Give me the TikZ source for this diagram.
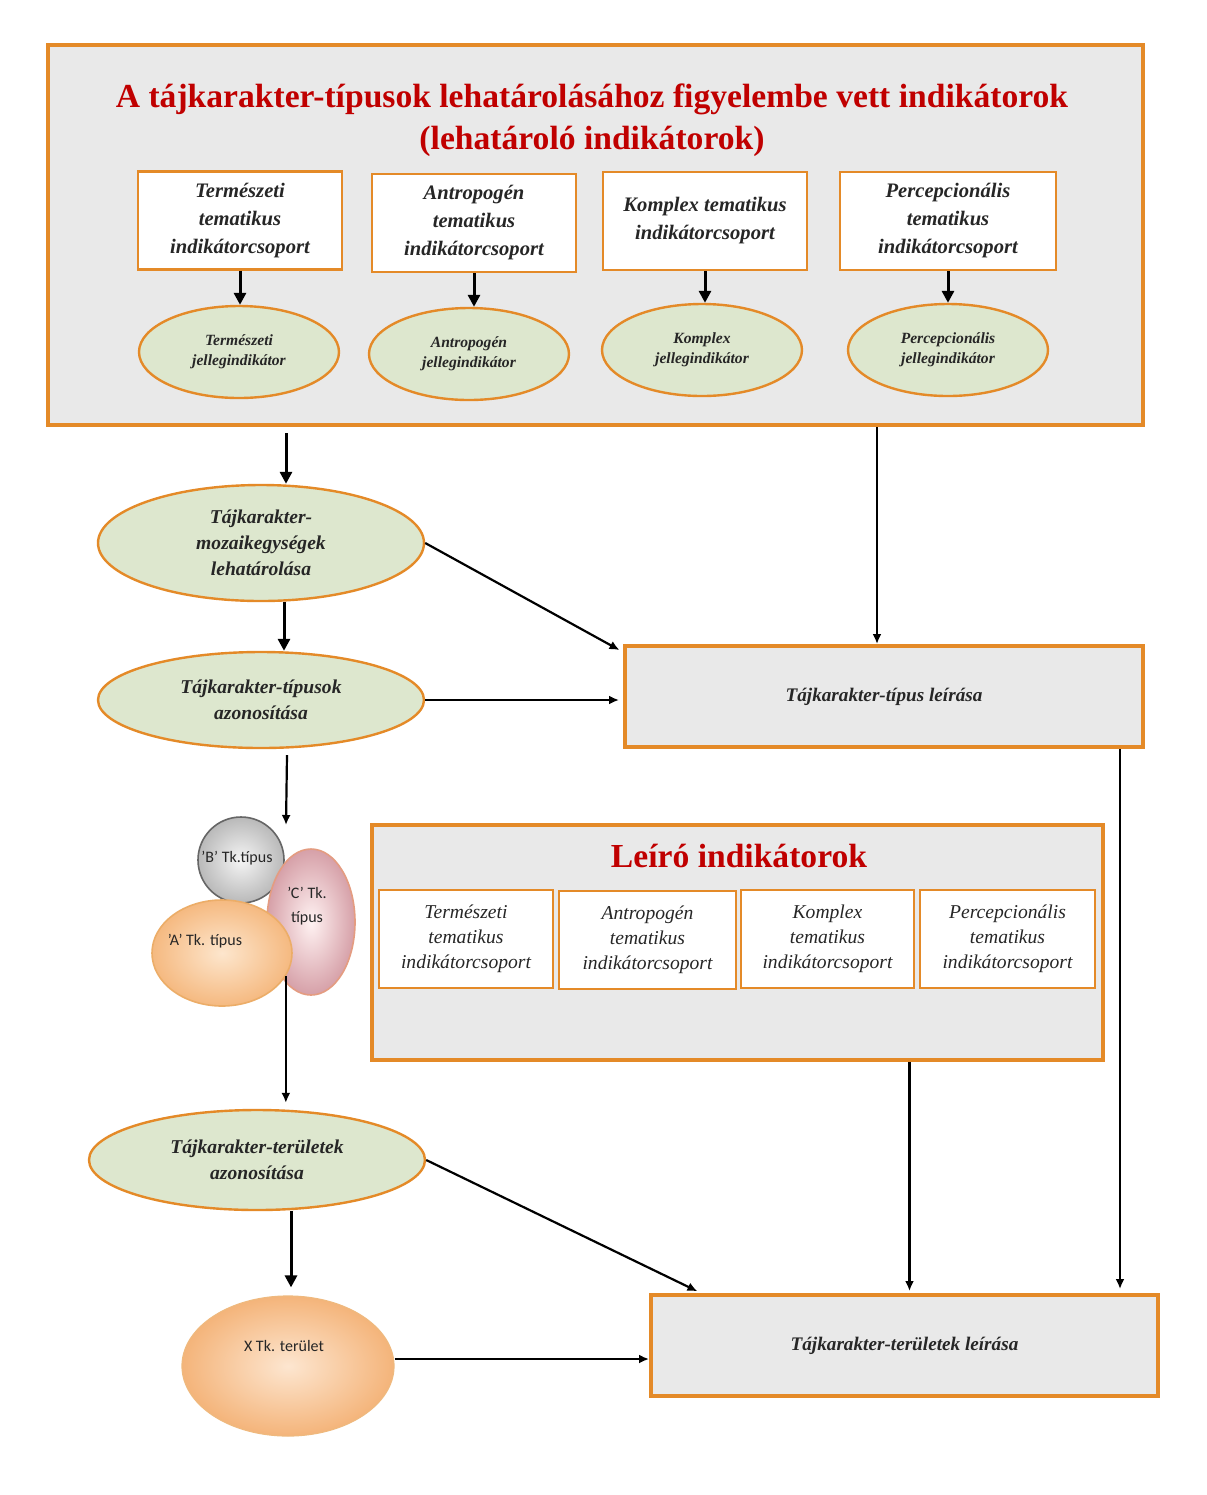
\documentclass[tikz,border=0pt]{standalone}
\usepackage{fontspec}
\setmainfont{Liberation Serif}
\newfontfamily\calib{Carlito}
\usetikzlibrary{shapes.geometric,arrows.meta,positioning}

\definecolor{orangeb}{RGB}{228,138,40}
\definecolor{grayf}{RGB}{233,233,233}
\definecolor{greenf}{RGB}{221,231,206}
\definecolor{redt}{RGB}{192,0,0}
\definecolor{textd}{RGB}{38,38,38}

\tikzset{
  frame/.style={draw=orangeb, line width=2pt, fill=grayf, inner sep=0pt},
  grpbox/.style={draw=orangeb, line width=1.2pt, fill=white, align=center, text=textd, inner sep=0pt,
    font=\bfseries\itshape\fontsize{10.3}{14}\selectfont, minimum height=49pt},
  descbox/.style={draw=orangeb, line width=1.2pt, fill=white, align=center, text=textd, inner sep=0pt,
    font=\itshape\fontsize{9.8}{12.5}\selectfont, minimum height=49pt},
  jelleg/.style={ellipse, draw=orangeb, line width=1.2pt, fill=greenf, align=center, text=textd, inner sep=0pt,
    font=\bfseries\itshape\fontsize{7.8}{10}\selectfont, minimum width=100pt, minimum height=46pt},
  stage/.style={ellipse, draw=orangeb, line width=1.2pt, fill=greenf, align=center, text=textd, inner sep=0pt,
    font=\bfseries\itshape\fontsize{9.8}{13}\selectfont, minimum width=163pt},
  outbox/.style={frame, text=textd, font=\bfseries\itshape\fontsize{9.6}{12}\selectfont, minimum height=50.5pt},
  headline/.style={text=redt, align=center, font=\bfseries\fontsize{16.8}{21}\selectfont},
  tktext/.style={text=textd, font=\calib\fontsize{8}{12}\selectfont, align=center},
  bigarr/.style={line width=1.5pt, -{Triangle[length=6pt,width=6pt]}},
  arr/.style={line width=1.1pt, -{Latex[length=5pt,width=4.5pt]}}
}

\begin{document}
\begin{tikzpicture}[x=0.5pt, y=-0.5pt]
    \fill[white] (0,0) rectangle (1206,1495);
    \useasboundingbox (0,0) rectangle (1206,1495);

    % lehatarolo indikatorok
    \node[frame, minimum width=547.5pt, minimum height=190pt] (lehat) at (595.5,235) {};
    \node[headline] (lehattitle) at (592,120) {A tájkarakter-típusok lehatárolásához figyelembe vett indikátorok\\(lehatároló indikátorok)};

    \node[grpbox, minimum width=102pt] (termcs) at (240,220.5) {Természeti\\tematikus\\indikátorcsoport};
    \node[grpbox, minimum width=102pt] (antrcs) at (474,223) {Antropogén\\tematikus\\indikátorcsoport};
    \node[grpbox, minimum width=102pt] (kompcs) at (705,221) {Komplex tematikus\\indikátorcsoport};
    \node[grpbox, minimum width=108pt] (percs) at (948,221) {Percepcionális\\tematikus\\indikátorcsoport};

    \node[jelleg] (termj) at (239,352) {Természeti\\jellegindikátor};
    \node[jelleg] (antrj) at (469,354) {Antropogén\\jellegindikátor};
    \node[jelleg] (kompj) at (702,350) {Komplex\\jellegindikátor};
    \node[jelleg] (perj) at (948,350) {Percepcionális\\jellegindikátor};

    \foreach \a/\b in {termcs/termj, antrcs/antrj, kompcs/kompj, percs/perj}
        {\draw[bigarr] (\a.south) -- (\a.south |- \b.north);}

    % tipusok
    \node[stage, minimum height=58pt] (mozaik) at (261,543) {Tájkarakter-\\mozaikegységek\\lehatárolása};
    \node[stage, minimum height=48pt] (tipusok) at (261,700) {Tájkarakter-típusok\\azonosítása};
    \node[outbox, minimum width=259pt] (tipusleir) at (884,696.5) {Tájkarakter-típus leírása};

    % Tk. tipus halmaz
    \node[circle, draw=gray!80!black, line width=0.8pt, inner color=gray!8, outer color=gray!55, minimum size=43pt] (tkB) at (241,860) {};
    \node[ellipse, draw=red!30!brown!60, line width=0.8pt, inner color=white!80!pink, outer color={rgb,255:red,214;green,160;blue,168}, minimum width=44pt, minimum height=73pt] (tkC) at (311,922) {};
    \node[ellipse, draw=orangeb!70, line width=0.8pt, inner color={rgb,255:red,253;green,230;blue,205}, outer color={rgb,255:red,245;green,185;blue,128}, minimum width=70pt, minimum height=53pt] (tkA) at (222,953) {};
    \node[tktext] (tkBtxt) at (237,858) {’B’ Tk.típus};
    \node[tktext] (tkCtxt) at (307,906) {’C’ Tk.\\típus};
    \node[tktext] (tkAtxt) at (205,941) {’A’ Tk. típus};
    \coordinate (tkin) at (286,825);

    % leiro indikatorok
    \node[frame, minimum width=365.5pt, minimum height=117.5pt] (leiro) at (737.5,942.5) {};
    \node[headline] (leirotitle) at (739,856) {Leíró indikátorok};
    \node[descbox, minimum width=87pt] (termd) at (466,939) {Természeti\\tematikus\\indikátorcsoport};
    \node[descbox, minimum width=88.5pt] (antrd) at (647.5,940) {Antropogén\\tematikus\\indikátorcsoport};
    \node[descbox, minimum width=86.5pt] (kompd) at (827.5,939) {Komplex\\tematikus\\indikátorcsoport};
    \node[descbox, minimum width=87.5pt] (perd) at (1007.5,939) {Percepcionális\\tematikus\\indikátorcsoport};

    % teruletek
    \node[stage, minimum width=168pt, minimum height=50pt] (terulet) at (257,1160) {Tájkarakter-területek\\azonosítása};
    \node[ellipse, draw=orangeb!60, line width=0.6pt, inner color={rgb,255:red,253;green,230;blue,208}, outer color={rgb,255:red,244;green,180;blue,122}, minimum width=106pt, minimum height=70pt] (tkX) at (288,1366) {};
    \node[tktext] (tkXtxt) at (284,1346) {X Tk. terület};
    \node[outbox, minimum width=253.5pt] (terleir) at (904.5,1345.5) {Tájkarakter-területek leírása};

    % kapcsolatok
    \draw[bigarr, shorten <=3pt] ([xshift=12.5pt]mozaik.north |- lehat.south) -- ([xshift=12.5pt]mozaik.north);
    \draw[arr] ([xshift=-3.5pt]tipusleir.north |- lehat.south) -- ([xshift=-3.5pt]tipusleir.north);
    \draw[bigarr] ([xshift=11.5pt]mozaik.south) -- ([xshift=11.5pt]tipusok.north);
    \draw[arr, shorten >=2pt] (mozaik.east) -- ([yshift=-4pt]tipusleir.north west);
    \draw[arr, shorten >=2pt] (tipusok.east) -- (tipusok.east -| tipusleir.west);
    \draw[arr] ([xshift=13pt,yshift=-3pt]tipusok.south) -- (tkin);
    \draw[arr, shorten >=3pt] (tkA.-20) -- (tkA.-20 |- terulet.north);
    \draw[bigarr, shorten >=4pt] ([xshift=17pt]terulet.south) -- ([xshift=17pt]terulet.south |- tkX.north);
    \draw[arr, shorten >=1pt] ([xshift=2.5pt]terleir.north |- leiro.south) -- ([xshift=2.5pt]terleir.north);
    \draw[arr, shorten >=2pt] ([xshift=-12.5pt]tipusleir.south east) -- ([xshift=-12.5pt]tipusleir.south east |- terleir.north);
    \draw[arr, shorten >=2pt] (terulet.east) -- ([xshift=26pt]terleir.north west);
    \draw[arr] ([yshift=3.5pt]tkX.east) -- ([yshift=3.5pt]tkX.east -| terleir.west);
\end{tikzpicture}
\end{document}
